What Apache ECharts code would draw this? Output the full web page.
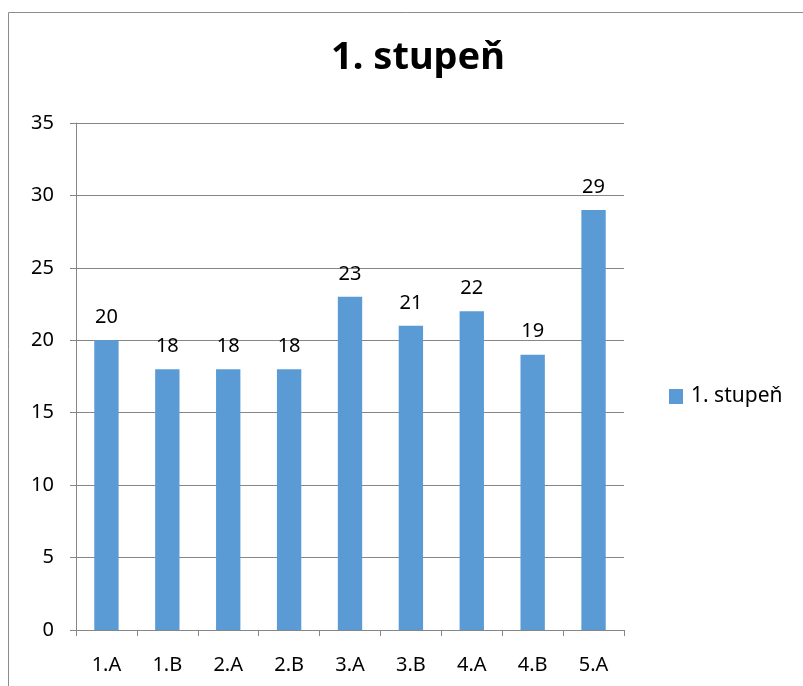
<!DOCTYPE html>
<html>
<head>
<meta charset="utf-8">
<script src="https://cdn.jsdelivr.net/npm/echarts@6/dist/echarts.min.js"></script>
<style>
    html, body { margin: 0; padding: 0; background: #fff; }
    #chart { width: 803px; height: 686px; }
</style>
</head>
<body>
<div id="chart"></div>
<script>
// třídy a počty žáků
var tridy = ['1.A', '1.B', '2.A', '2.B', '3.A', '3.B', '4.A', '4.B', '5.A'];
var pocty = [20, 18, 18, 18, 23, 21, 22, 19, 29];
var nazevRady = '1. stupeň';

var font = 'Noto Sans, Liberation Sans, sans-serif';

function initChart () {
    var chart = echarts.init(document.getElementById('chart'));
    var option = {
        animation: false,
        textStyle: { fontFamily: font },
        title: {
            text: nazevRady,
            left: 413,
            textAlign: 'center',
            top: 34,
            textStyle: {
                fontSize: 38,
                fontWeight: 'bold',
                color: '#000',
                fontFamily: font
            }
        },
        // rámeček kolem grafu
        graphic: [{
            type: 'rect',
            shape: { x: 8.5, y: 12.5, width: 820, height: 700 },
            style: { fill: 'none', stroke: '#8c8c8c', lineWidth: 1 },
            silent: true
        }],
        legend: {
            orient: 'vertical',
            left: 664,
            top: 381,
            itemWidth: 14,
            itemHeight: 15,
            itemGap: 8,
            icon: 'rect',
            textStyle: { fontSize: 21, color: '#000', fontFamily: font, padding: [0, 0, 0, 3] },
            data: [nazevRady]
        },
        grid: {
            left: 76,
            right: 179,
            top: 123,
            bottom: 56,
            containLabel: false
        },
        xAxis: {
            type: 'category',
            data: tridy,
            axisLine: { lineStyle: { color: '#868686', width: 1 } },
            axisTick: { show: true, alignWithLabel: false, length: 6, lineStyle: { color: '#868686' } },
            axisLabel: { color: '#000', fontSize: 20, margin: 25, fontFamily: font }
        },
        yAxis: {
            type: 'value',
            min: 0,
            max: 35,
            interval: 5,
            axisLine: { show: true, lineStyle: { color: '#868686', width: 1 } },
            axisTick: { show: true, length: 6, lineStyle: { color: '#868686' } },
            axisLabel: { color: '#000', fontSize: 20, margin: 22, fontFamily: font },
            splitLine: { lineStyle: { color: '#868686', width: 1 } }
        },
        series: [{
            name: nazevRady,
            type: 'bar',
            data: pocty,
            barWidth: '40%',
            itemStyle: { color: '#5b9bd5' },
            label: {
                show: true,
                position: 'top',
                distance: 13,
                color: '#000',
                fontSize: 20,
                fontFamily: font
            }
        }]
    };
    chart.setOption(option);
    return chart;
}

initChart();
</script>
</body>
</html>
